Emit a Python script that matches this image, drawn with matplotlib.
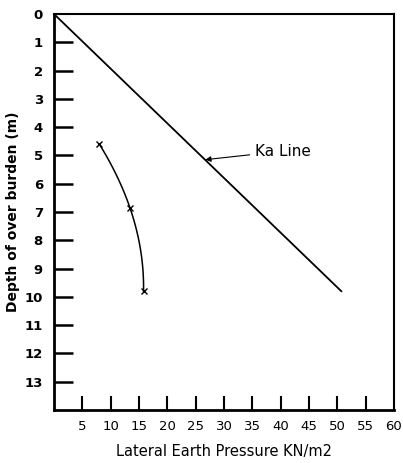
"""
Lateral earth pressure vs depth, with Ka line
"""

import numpy as np
import matplotlib.pyplot as plt

# %% Data
ka_pressure = [0.0, 50.7]
ka_depth = [0.0, 9.8]

meas_pressure = [8.0, 13.4, 15.8]
meas_depth = [4.6, 6.85, 9.8]

x_ticks = [5, 10, 15, 20, 25, 30, 35, 40, 45, 50, 55, 60]
y_ticks = list(range(0, 14))

plt.rcParams.update({"font.family": "DejaVu Sans", "font.size": 9})

# %% Plot
fig = plt.figure(figsize=(4.03, 4.63), dpi=100)
ax = fig.add_axes([54 / 403, 53 / 463, 340 / 403, 396 / 463])

ax.plot(ka_pressure, ka_depth, color="black", lw=1.3)

# smooth curve through the measured points
coef = np.polyfit(meas_depth, meas_pressure, 2)
dd = np.linspace(meas_depth[0], meas_depth[-1], 50)
ax.plot(np.polyval(coef, dd), dd, color="black", lw=1.1)
ax.plot(meas_pressure, meas_depth, ls="none", marker="x", color="black", ms=5, mew=1)

ax.annotate(
    "Ka Line",
    xy=(26.7, 5.15),
    xytext=(35.5, 4.85),
    fontsize=11,
    va="center",
    arrowprops=dict(arrowstyle="-|>", color="black", lw=0.8, mutation_scale=8, shrinkA=2, shrinkB=0),
)

ax.set_xlim(0, 60)
ax.set_ylim(14, 0)
ax.set_xticks(x_ticks)
ax.set_xticklabels([str(v) for v in x_ticks], fontsize=9.5)
ax.set_yticks(y_ticks)
ax.set_yticklabels([str(v) for v in y_ticks], fontweight="bold", fontsize=9.5)
ax.tick_params(axis="x", direction="in", length=10, width=1.5, pad=7)
ax.tick_params(axis="y", direction="in", length=14, width=1.8, pad=8)
ax.yaxis.get_major_ticks()[0].tick1line.set_visible(False)
ax.xaxis.get_major_ticks()[-1].tick1line.set_visible(False)

for side in ["left", "bottom"]:
    ax.spines[side].set_linewidth(2)
for side in ["top", "right"]:
    ax.spines[side].set_linewidth(1.5)

ax.set_xlabel("Lateral Earth Pressure KN/m2", fontsize=10.5, labelpad=8)
ax.set_ylabel("Depth of over burden (m)", fontsize=10, fontweight="bold")
ax.yaxis.set_label_coords(-0.1, 0.5)

fig.savefig("out.png", dpi=100)
